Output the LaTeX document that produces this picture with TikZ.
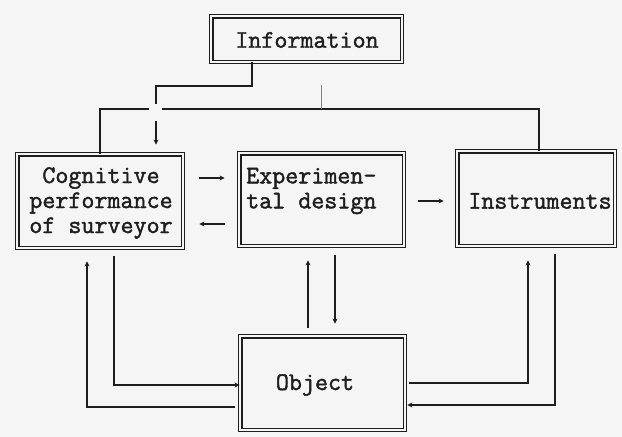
\documentclass[tikz,border=0pt]{standalone}
\usepackage{fontspec}
\setmonofont[BoldFont={Latin Modern Mono}, BoldFeatures={FakeBold=1.6}]{Latin Modern Mono}
\usetikzlibrary{arrows.meta,calc}
\definecolor{paper}{RGB}{245,245,245}
\definecolor{ink}{RGB}{30,30,30}
\tikzset{
  box/.style={draw=ink, line width=1.3pt, double=paper, double distance=1.9pt,
    fill=paper, inner sep=0pt},
  lbl/.style={font=\ttfamily\bfseries\fontsize{25.3}{25}\selectfont, text=ink,
    inner sep=0pt, align=center},
  conn/.style={draw=ink, line width=1.2pt},
  arr/.style={conn, -{Stealth[length=5pt,width=5pt]}},
}
\begin{document}
\begin{tikzpicture}[x=1pt, y=-1pt]
  \fill[paper] (0,0) rectangle (622,437);
  \useasboundingbox (0,0) rectangle (622,437);

  % boxes (outer edge of the double frame given by size + 4.5)
  \node[box, minimum width=190.5pt, minimum height=45.5pt] (info) at (306.5,39) {};
  \node[box, minimum width=165.5pt, minimum height=93.5pt] (cog)  at (100,201) {};
  \node[box, minimum width=164.5pt, minimum height=92.5pt] (exp)  at (321.5,199.5) {};
  \node[box, minimum width=157.5pt, minimum height=94.5pt] (inst) at (536,198.5) {};
  \node[box, minimum width=164.5pt, minimum height=93.5pt] (obj)  at (322.5,383) {};

  % texts
  \node[lbl] (tinfo) at (307,40) {Information};
  \node[lbl] (tcog)  at (101,203) {Cognitive\\performance\\of surveyor};
  \node[lbl, align=left, anchor=west] (texp) at (246,191) {Experimen-\\tal design};
  \node[lbl] (tinst) at (540,201) {Instruments};
  \node[lbl] (tobj)  at (315,385) {Object};

  % common line from the top
  \coordinate (busL) at (100,109);
  \coordinate (busR) at (539,109);
  \draw[conn] (cog.north) -- (busL) -- (busR) -- (busR |- inst.north);
  \coordinate (tickT) at (321,85);
  \draw[conn, draw=gray, line width=1pt] (tickT) -- (tickT |- busL);

  % information feeds the surveyor
  \coordinate (drop) at (252,86);
  \draw[arr, shorten >=9pt] (info.south -| drop) -- (drop) -| ([xshift=56pt]cog.north);
  \fill[paper] (149,104) rectangle (162,121);

  % horizontal links between the upper boxes
  \draw[arr, shorten <=16pt, shorten >=14pt] (cog.east |- 0,178) -- (exp.west |- 0,178);
  \draw[arr, shorten <=14pt, shorten >=16pt] (exp.west |- 0,224) -- (cog.east |- 0,224);
  \draw[arr, shorten <=14pt, shorten >=13pt] (exp.east |- 0,201) -- (inst.west |- 0,201);

  % links with the object
  \draw[arr, shorten <=8pt] (cog.south -| 114,0) |- (obj.west |- 0,385);
  \draw[arr, shorten <=5pt, shorten >=13pt] (obj.west |- 0,407) -| (cog.south -| 87,0);
  \draw[arr, shorten <=8pt, shorten >=14pt] (obj.north -| 308,0) -- (exp.south -| 308,0);
  \draw[arr, shorten <=9pt, shorten >=12pt] (exp.south -| 335,0) -- (obj.north -| 335,0);
  \draw[arr, shorten <=4pt, shorten >=14pt] (obj.east |- 0,383) -| (inst.south -| 528,0);
  \draw[arr, shorten <=8pt, shorten >=2pt] (inst.south -| 555,0) |- (obj.east |- 0,405);
\end{tikzpicture}
\end{document}
